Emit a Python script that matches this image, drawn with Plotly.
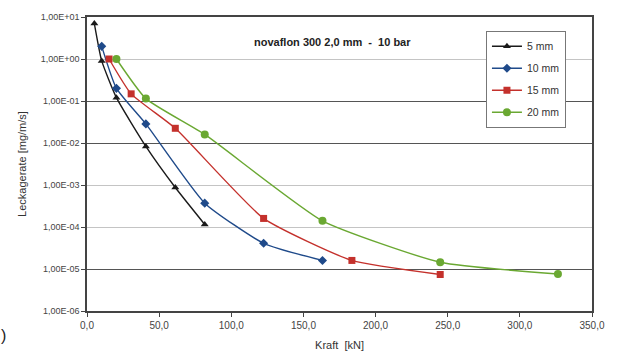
import plotly.graph_objects as go

# Data
x_5 = [5.1, 10.2, 20.4, 40.8, 61.2, 81.6]
y_5 = [7.0, 0.9, 0.12, 0.0083, 8.7e-4, 1.15e-4]

x_10 = [10.2, 20.4, 40.8, 81.6, 122.4, 163.2]
y_10 = [2.0, 0.2, 0.0285, 3.7e-4, 4.1e-5, 1.6e-5]

x_15 = [15.3, 30.6, 61.2, 122.4, 183.6, 244.8]
y_15 = [1.0, 0.148, 0.0224, 1.6e-4, 1.6e-5, 7.4e-6]

x_20 = [20.4, 40.8, 81.6, 163.2, 244.8, 326.4]
y_20 = [1.0, 0.114, 0.016, 1.4e-4, 1.45e-5, 7.6e-6]

series_names = ["5 mm", "10 mm", "15 mm", "20 mm"]
colors = ["#1a1a1a", "#1f4a8a", "#c4312c", "#6aa832"]
symbols = ["triangle-up", "diamond", "square", "circle"]
sizes = [7, 7, 7, 8]

x_tickvals = [0, 50, 100, 150, 200, 250, 300, 350]
x_ticktext = ["0,0", "50,0", "100,0", "150,0", "200,0", "250,0", "300,0", "350,0"]
y_tickvals = [1e1, 1e0, 1e-1, 1e-2, 1e-3, 1e-4, 1e-5, 1e-6]
y_ticktext = ["1,00E+01", "1,00E+00", "1,00E-01", "1,00E-02",
              "1,00E-03", "1,00E-04", "1,00E-05", "1,00E-06"]
dark_grid = [1e-1, 1e-2, 1e-5]

title_text = "<b>novaflon 300 2,0 mm  -  10 bar</b>"

fig = go.Figure()
for xs, ys, name, c, s, sz in zip([x_5, x_10, x_15, x_20], [y_5, y_10, y_15, y_20],
                                  series_names, colors, symbols, sizes):
    fig.add_trace(go.Scatter(
        x=xs, y=ys, name=name, mode="lines+markers", legendgroup=name,
        line=dict(color=c, width=1.4, shape="spline", smoothing=0.5),
        marker=dict(symbol=s, size=sz, color=c),
    ))

# invisible trace to anchor secondary grid axis
fig.add_trace(go.Scatter(x=[None], y=[None], yaxis="y2", showlegend=False, hoverinfo="skip"))

font_family = "Liberation Sans, Arial, sans-serif"

fig.update_layout(
    width=617, height=362,
    margin=dict(l=87, r=24, t=15, b=48),
    paper_bgcolor="white", plot_bgcolor="white",
    font=dict(family=font_family, size=10, color="#333"),
    showlegend=True,
    legend=dict(
        x=0.79, y=0.953, xanchor="left", yanchor="top",
        bgcolor="white", bordercolor="#777", borderwidth=1,
        font=dict(size=10.5, color="#333"),
        itemwidth=30, tracegroupgap=3,
    ),
    xaxis=dict(
        range=[0, 350], tickvals=x_tickvals, ticktext=x_ticktext,
        showgrid=False, zeroline=False,
        showline=True, linecolor="#444", linewidth=1.5, mirror=True,
        ticks="outside", ticklen=4, tickcolor="#444",
        tickfont=dict(size=10, color="#444"),
        title=dict(text="Kraft  [kN]", font=dict(size=11, color="#333"), standoff=12),
    ),
    yaxis=dict(
        type="log", range=[-6, 1], tickvals=y_tickvals, ticktext=y_ticktext,
        showgrid=True, gridcolor="#c4c4c4", gridwidth=1.2, zeroline=False,
        showline=True, linecolor="#444", linewidth=1.5, mirror=True,
        ticks="outside", ticklen=4, tickcolor="#444",
        tickfont=dict(size=9, color="#444"),
        title=dict(text="Leckagerate [mg/m/s]", font=dict(size=11, color="#333"), standoff=12),
    ),
    yaxis2=dict(
        type="log", range=[-6, 1], overlaying="y", tickvals=dark_grid,
        showticklabels=False, showgrid=True, gridcolor="#555", gridwidth=1,
        showline=False, zeroline=False,
    ),
    annotations=[
        dict(text=title_text, xref="paper", yref="paper", x=0.486, y=0.915,
             yanchor="middle", showarrow=False, font=dict(size=11, color="#222")),
        dict(text=")", xref="paper", yref="paper", x=-0.175, y=-0.12,
             xanchor="left", showarrow=False, font=dict(size=16, color="#222")),
    ],
)

fig.write_html("out.html")
